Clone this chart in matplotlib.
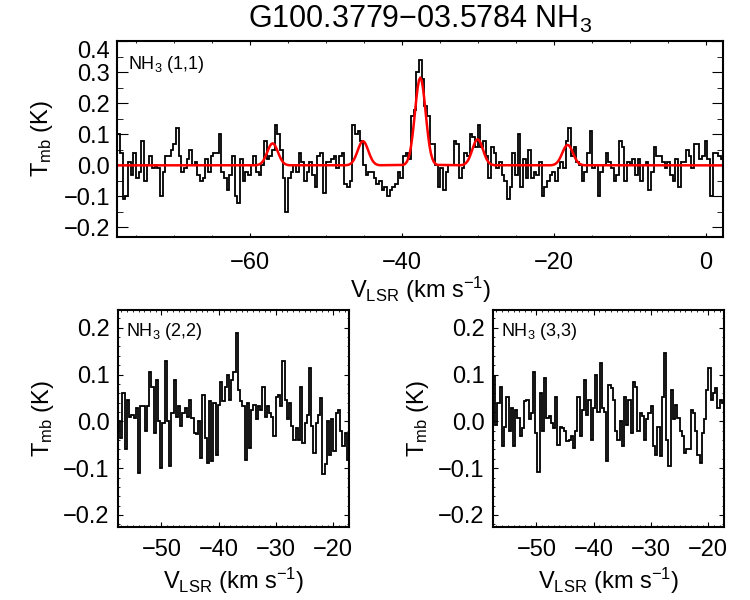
import matplotlib
matplotlib.use('Agg')
import matplotlib.pyplot as plt
import numpy as np
from matplotlib.ticker import MultipleLocator

plt.rcParams['font.family'] = ['Liberation Sans', 'DejaVu Sans']
plt.rcParams['mathtext.fontset'] = 'custom'
plt.rcParams['mathtext.rm'] = 'Liberation Sans'
plt.rcParams['mathtext.it'] = 'Liberation Sans:italic'

# NH3 (1,1) spectrum, read channel by channel from the picture
v11_start = -77.5
v11_width = 0.3515
t11 = [
    0.10, 0.04, -0.11, -0.10, 0.01, -0.03, 0.04, -0.04, -0.02, 0.08,
    -0.05, 0.00, 0.03, -0.01, 0.00, -0.01, -0.10, -0.02, 0.03, 0.03,
    0.05, 0.07, 0.12, 0.03, -0.02, -0.01, 0.02, 0.05, 0.00, 0.01,
    -0.03, -0.05, -0.04, 0.02, -0.02, 0.03, 0.04, 0.04, 0.10, -0.02,
    -0.04, -0.08, -0.03, 0.03, -0.10, -0.12, 0.02, -0.05, -0.02, -0.03,
    0.00, 0.03, -0.02, -0.03, 0.00, 0.08, 0.02, 0.03, 0.05, 0.13,
    0.10, 0.05, -0.04, -0.15, -0.04, -0.02, 0.00, -0.02, 0.04, 0.01,
    -0.05, -0.02, 0.01, -0.03, -0.07, 0.03,
    0.04, -0.09, 0.01, 0.01, 0.02, 0.03, -0.01, 0.03, 0.04, -0.06,
    -0.07, -0.05, 0.13, 0.10, 0.11, 0.08, 0.00, -0.03, -0.02, -0.02,
    -0.04, -0.06, -0.05, -0.08, -0.07, -0.10, -0.08, -0.07, -0.06, -0.02,
    -0.04, 0.03, 0.04, 0.02, 0.16, 0.18, 0.30, 0.34, 0.28, 0.19,
    0.16, 0.07, 0.07, 0.00, -0.07, -0.01, -0.08, -0.02, 0.00, 0.00,
    0.08, 0.07, -0.04, -0.01, 0.04, 0.03, 0.10, 0.09, 0.06, 0.13,
    0.06, 0.08, 0.03, -0.04, 0.06, 0.04, -0.01, 0.01, -0.03, -0.05,
    -0.11, -0.07, 0.04, -0.03, 0.10,
    -0.07, 0.02, -0.04, 0.05, -0.04, -0.02, -0.03, 0.01, -0.10, -0.07,
    -0.05, -0.03, -0.02, -0.05, -0.01, 0.01, -0.01, 0.08, 0.12, 0.03,
    0.06, 0.01, 0.00, -0.05, -0.02, 0.04, 0.11, -0.01, 0.00, -0.10,
    -0.02, 0.00, 0.04, 0.01, -0.01, -0.05, -0.03, 0.08, 0.06, -0.05,
    0.01, 0.00, 0.02, -0.03, 0.02, -0.05, 0.00, 0.01, -0.08, -0.02,
    0.06, 0.03, 0.03, 0.01, -0.01, 0.01, -0.03, -0.05, 0.02, -0.07,
    0.01, 0.01, 0.05, 0.03, -0.01, 0.07, 0.07, 0.02, 0.03, 0.08,
    0.02, -0.10, 0.04, 0.04, 0.03, 0.02,
]

# hyperfine fit (red): component centres, peak heights and the line profile
fit_centres = [-57.05, -45.15, -37.6, -30.05, -18.2]
fit_peaks = [0.071, 0.078, 0.283, 0.084, 0.066]
fit_offsets = [-2.275, -2.1, -1.925, -1.75, -1.575, -1.4, -1.225, -1.05, -0.875,
               -0.7, -0.525, -0.35, -0.175, 0.0, 0.175, 0.35, 0.525, 0.7, 0.875,
               1.05, 1.225, 1.4, 1.575, 1.75, 1.925, 2.1, 2.275]
fit_profile = [0.005, 0.011, 0.023, 0.044, 0.080, 0.135, 0.216, 0.325, 0.458,
               0.607, 0.755, 0.882, 0.969, 1.0, 0.969, 0.882, 0.755, 0.607, 0.458,
               0.325, 0.216, 0.135, 0.080, 0.044, 0.023, 0.011, 0.005]

# NH3 (2,2) and (3,3)
vlow_start = -57.6
vlow_width = 0.388
t22 = [
    0.000, -0.035, 0.060, -0.060, 0.046, 0.010, 0.014, 0.007, 0.028, -0.110,
    0.033, 0.032, -0.020, 0.032, 0.106, 0.074, -0.025, 0.089, 0.000, -0.100,
    -0.004, 0.128, 0.000, -0.096, 0.018, 0.089, 0.010, 0.032, -0.010, 0.018,
    0.028, 0.010, 0.046, 0.007, -0.025, -0.028, 0.000, -0.078, 0.057, -0.035,
    -0.089, 0.043, -0.085, 0.039, -0.071, 0.035, 0.085, 0.043, 0.074, 0.099,
    0.046, 0.089, 0.106, 0.188, 0.067, 0.043, 0.032, -0.082, 0.039, -0.057,
    0.025, 0.035, 0.004, 0.032, 0.025, 0.074, 0.010, 0.032, 0.018, 0.010,
    -0.032, 0.053, 0.057, 0.032, 0.128, 0.046, 0.004, 0.039, -0.010, -0.039,
    -0.014, -0.039, 0.074, -0.046, -0.004, 0.014, 0.113, -0.010, -0.067, -0.004,
    0.014, 0.050, -0.113, -0.092, 0.000, -0.071, 0.004, -0.064, 0.018, 0.025,
    -0.021, -0.053, -0.025, -0.082,
]
t33 = [
    0.096, -0.007, 0.039, 0.074, -0.053, -0.011, 0.053, -0.021, 0.028, -0.053,
    0.025, 0.007, -0.032, -0.014, 0.043, 0.046, 0.004, 0.018, 0.106, -0.025,
    -0.108, 0.060, -0.021, 0.092, 0.007, 0.011, -0.004, -0.014, 0.053, -0.050,
    -0.011, -0.014, -0.021, -0.043, -0.039, -0.032, -0.057, -0.021, 0.053, -0.032,
    0.025, 0.089, 0.014, 0.046, -0.039, 0.028, 0.099, 0.021, 0.124, 0.028,
    0.021, -0.085, 0.078, 0.071, 0.046, -0.021, -0.039, 0.000, -0.053, 0.053,
    -0.007, 0.046, -0.025, 0.085, 0.074, -0.021, 0.018, 0.011, -0.039, 0.004,
    0.018, 0.032, -0.053, -0.071, -0.011, -0.074, 0.053, 0.145, -0.039, -0.096,
    0.067, 0.004, 0.035, 0.007, -0.021, -0.032, -0.067, -0.060, -0.060, 0.025,
    0.018, -0.021, -0.071, -0.089, -0.025, 0.004, 0.067, 0.113, 0.046, 0.060,
    0.071, 0.028, 0.046, 0.039,
]

xlab = r'V$_\mathregular{LSR}$ (km s$^\mathregular{-1}$)'
ylab = r'T$_\mathregular{mb}$ (K)'
fs = 17

fig = plt.figure(figsize=(7.5, 6), dpi=100)

# ---- top panel
ax = fig.add_axes([0.1564, 0.6055, 0.808, 0.3257])
edges = v11_start + v11_width * np.arange(len(t11) + 1)
ax.stairs(t11, edges, color='k', lw=1.3, baseline=None)

fx = [edges[0]]
fy = [0.0]
for c, p in zip(fit_centres, fit_peaks):
    fx += [c + o for o in fit_offsets]
    fy += [p * s for s in fit_profile]
fx.append(edges[-1])
fy.append(0.0)
ax.plot(fx, fy, color='red', lw=1.8)

ax.set_xlim(-77.5, 2.3)
ax.set_ylim(-0.23, 0.4)
ax.xaxis.set_major_locator(MultipleLocator(20))
ax.xaxis.set_minor_locator(MultipleLocator(5))
ax.set_yticks([-0.2, -0.1, 0.0, 0.1, 0.2, 0.3, 0.4])
ax.set_yticklabels(['−0.2', '−0.1', '0.0', '0.1', '0.2', '0.3', '0.4'])
ax.yaxis.set_minor_locator(MultipleLocator(0.05))
ax.tick_params(axis='both', which='both', direction='in', top=True, right=True,
               labelsize=fs)
ax.tick_params(axis='y', which='major', length=8, pad=5)
ax.tick_params(axis='y', which='minor', length=4.5)
ax.tick_params(axis='x', which='major', length=3, pad=11)
ax.tick_params(axis='x', which='minor', length=1.5)
ax.get_yticklabels()[-1].set_verticalalignment('top')
ax.set_xlabel(xlab, fontsize=fs)
ax.xaxis.set_label_coords(0.5, -0.195)
ax.set_ylabel(ylab, fontsize=fs)
ax.yaxis.set_label_coords(-0.103, 0.5)
ax.text(0.018, 0.935, r'NH$_\mathregular{3}$ (1,1)', transform=ax.transAxes,
        fontsize=13, va='top', ha='left')
for s in ax.spines.values():
    s.set_linewidth(1.5)

fig.text(0.56, 0.967, r'G100.3779−03.5784 NH$_\mathregular{3}$', fontsize=22,
         ha='center', va='center')

# ---- bottom panels
for left, spec, name in [(0.1573, t22, '(2,2)'), (0.6573, t33, '(3,3)')]:
    axb = fig.add_axes([left, 0.1222, 0.3084, 0.3612])
    eb = vlow_start + vlow_width * np.arange(len(spec) + 1)
    axb.stairs(spec, eb, color='k', lw=1.3, baseline=None)
    axb.set_xlim(-57.6, -17.2)
    axb.set_ylim(-0.225, 0.238)
    axb.xaxis.set_major_locator(MultipleLocator(10))
    axb.xaxis.set_minor_locator(MultipleLocator(1))
    axb.set_yticks([-0.2, -0.1, 0.0, 0.1, 0.2])
    axb.set_yticklabels(['−0.2', '−0.1', '0.0', '0.1', '0.2'])
    axb.yaxis.set_minor_locator(MultipleLocator(0.02))
    axb.tick_params(axis='both', which='both', direction='in', top=True,
                    right=True, labelsize=fs)
    axb.tick_params(axis='both', which='major', length=3.5)
    axb.tick_params(axis='both', which='minor', length=1.5)
    axb.tick_params(axis='y', which='major', pad=6)
    axb.tick_params(axis='x', which='major', pad=9)
    axb.set_xlabel(xlab, fontsize=fs)
    axb.xaxis.set_label_coords(0.5, -0.18)
    axb.set_ylabel(ylab, fontsize=fs)
    axb.yaxis.set_label_coords(-0.27, 0.5)
    axb.text(0.035, 0.95, r'NH$_\mathregular{3}$ ' + name, transform=axb.transAxes,
             fontsize=13, va='top', ha='left')
    for s in axb.spines.values():
        s.set_linewidth(1.5)

fig.savefig('out.png', dpi=100)
